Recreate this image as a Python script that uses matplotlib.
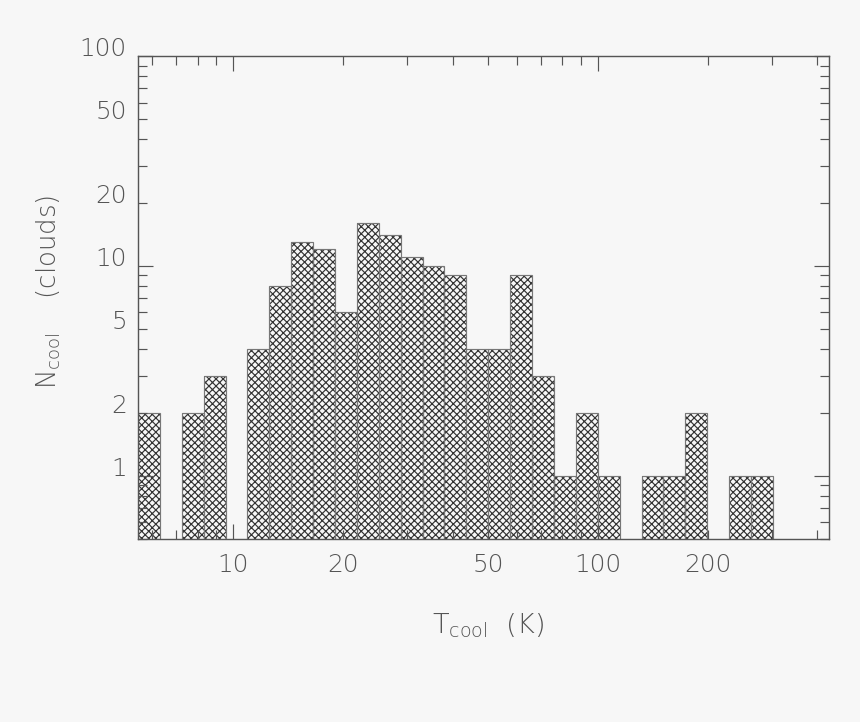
import numpy as np
import matplotlib.pyplot as plt
from matplotlib.ticker import LogLocator, FuncFormatter

plt.rcParams['font.family'] = ['DejaVu Sans']
plt.rcParams['font.weight'] = 'light'
plt.rcParams['axes.labelweight'] = 'light'
plt.rcParams['hatch.linewidth'] = 1.0

# histogram of cool temperatures, bins of 0.06 dex in log T
log_tmin = 0.74
dlog = 0.06
counts = [2, 0, 2, 3, 0, 4, 8, 13, 12, 6, 16, 14, 11, 10, 9,
          4, 4, 9, 3, 1, 2, 1, 0, 1, 1, 2, 0, 1, 1]
xlim_log = (0.74, 2.634)
ylim = (0.5, 100)

bg = '#f7f7f7'
ink = '#555555'

edges = 10 ** (log_tmin + dlog * np.arange(len(counts) + 1))
counts = np.array(counts)
left = edges[:-1]
width = edges[1:] - edges[:-1]
keep = counts > 0

fig = plt.figure(figsize=(860 / 85, 722 / 85), dpi=85, facecolor=bg)
ax = fig.add_axes([0.1605, 0.2535, 0.8035, 0.669], facecolor=bg)
ax.set_xscale('log')
ax.set_yscale('log')

# hatch pass, then outline pass
ax.bar(left[keep], counts[keep], width=width[keep], align='edge',
       facecolor=bg, edgecolor='#333333', linewidth=0, hatch='xxxx')
ax.bar(left[keep], counts[keep], width=width[keep], align='edge',
       fill=False, edgecolor='#777777', linewidth=1.0)

ax.set_xlim(10 ** xlim_log[0], 10 ** xlim_log[1])
ax.set_ylim(*ylim)


def minor_fmt(v, pos):
    if v < 1:
        return ''
    lead = round(v / 10 ** np.floor(np.log10(v) + 1e-9))
    return '%g' % v if lead in (2, 5) else ''


for axis in (ax.xaxis, ax.yaxis):
    axis.set_major_locator(LogLocator(base=10))
    axis.set_minor_locator(LogLocator(base=10, subs=np.arange(2, 10)))
    axis.set_major_formatter(FuncFormatter(lambda v, p: '%g' % v))
    axis.set_minor_formatter(FuncFormatter(minor_fmt))

ax.tick_params(which='both', direction='in', top=True, right=True,
               color='#555555', width=1.0, labelsize=21, labelcolor=ink)
ax.tick_params(which='major', length=12.7)
ax.tick_params(which='minor', length=7.6)
ax.tick_params(axis='x', which='both', pad=11.5)
ax.tick_params(axis='y', which='both', pad=9.5)

for s in ax.spines.values():
    s.set_color('#555555')
    s.set_linewidth(1.2)

ax.set_xlabel(r'$\mathregular{T_{cool}}$  (K)', fontsize=23, color=ink)
ax.set_ylabel(r'$\mathregular{N_{cool}}$    (clouds)', fontsize=22, color=ink)
ax.xaxis.set_label_coords(0.506, -0.151)
ax.yaxis.set_label_coords(-0.108, 0.511)

fig.canvas.draw()
for lab in ax.get_yticklabels(which='both'):
    lab.set_verticalalignment('baseline')

fig.savefig('out.png', dpi=85, facecolor=bg)
